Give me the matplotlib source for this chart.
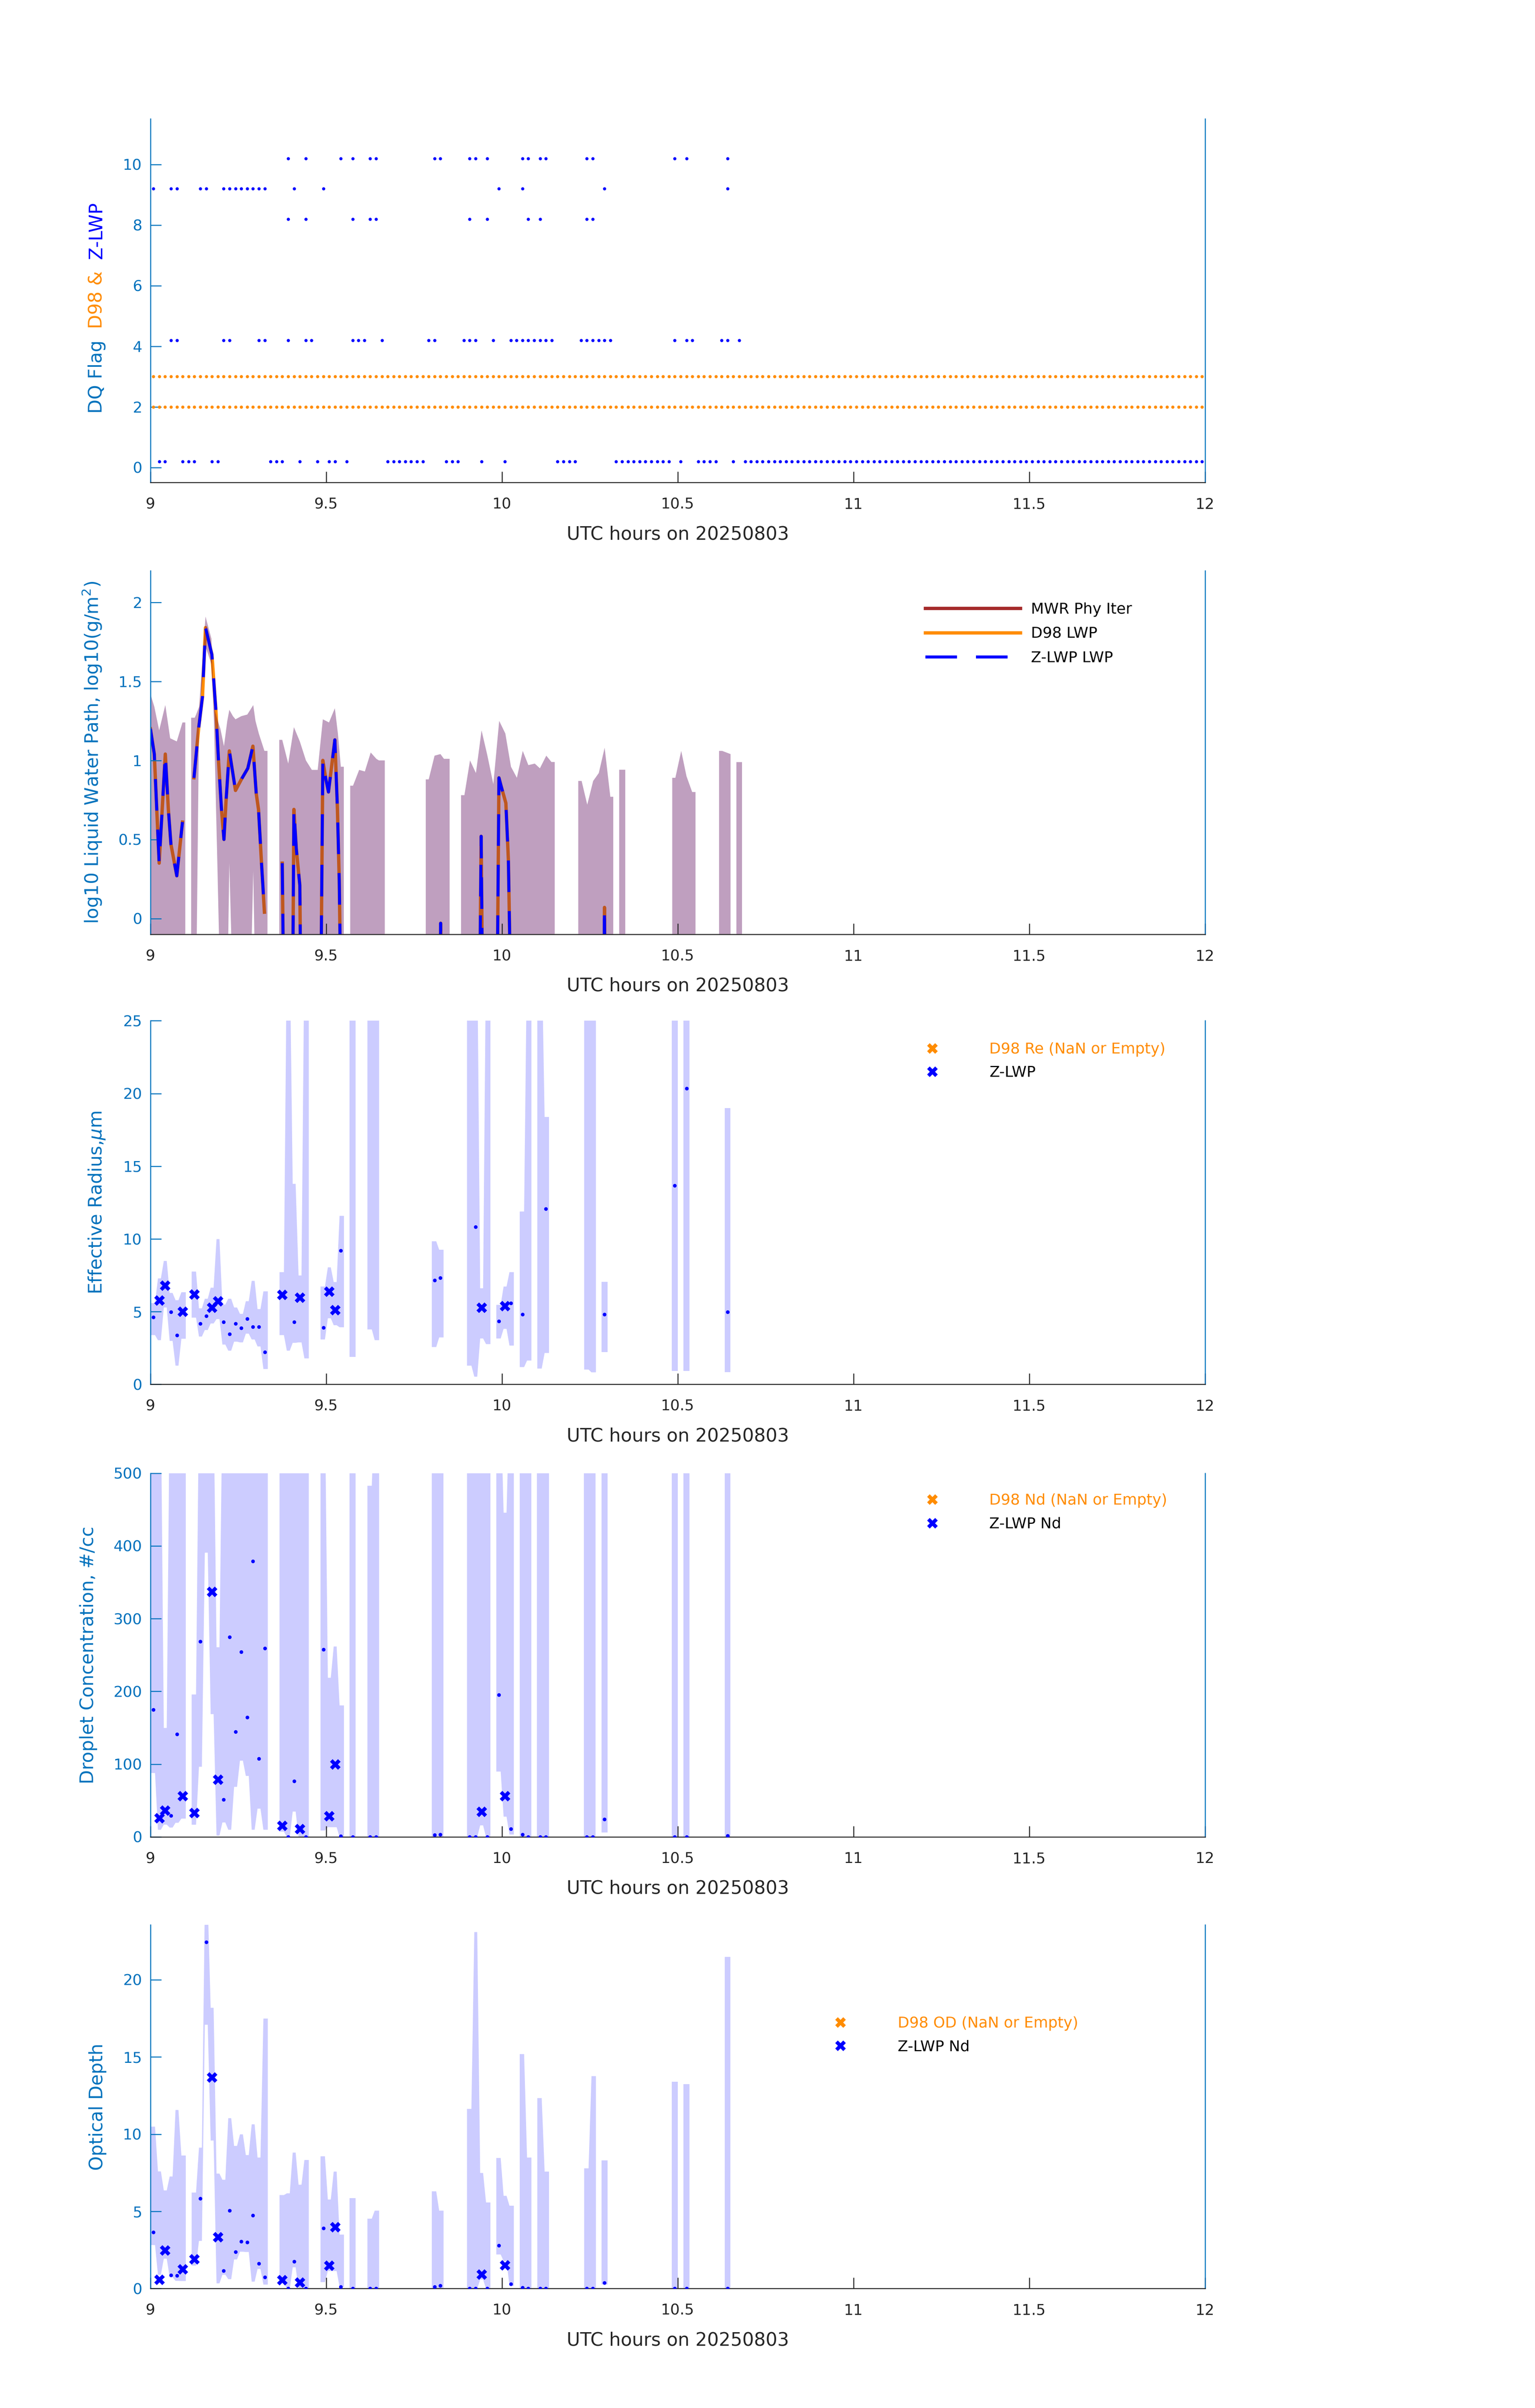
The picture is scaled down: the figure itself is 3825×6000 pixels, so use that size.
import numpy as np
import matplotlib
matplotlib.use('Agg')
import matplotlib.pyplot as plt
from matplotlib.ticker import FuncFormatter
from matplotlib.lines import Line2D

plt.rcParams['font.family'] = ['DejaVu Sans']

AX_BLUE = '#0072BD'
DARK = '#262626'
ORANGE = '#FF8C00'
BLUE = '#0000FF'
NAN = np.nan

# time base: one-minute samples stamped at the middle of each minute
n_time = 180
t_hour = 9.0 + (np.arange(n_time) + 0.5) / 60.0
half_min = 0.5 / 60.0
quarter_min = 0.25 / 60.0

# ---------------- panel 1: DQ flags (sample indices where a flag is set)
zlwp_flag10 = [23, 26, 32, 34, 37, 38, 48, 49, 54, 55, 57, 63, 64, 66, 67, 74, 75, 89, 91, 98]
zlwp_flag9 = [0, 3, 4, 8, 9, 12, 13, 14, 15, 16, 17, 18, 19, 24, 29, 59, 63, 77, 98]
zlwp_flag8 = [23, 26, 34, 37, 38, 54, 57, 64, 66, 74, 75]
zlwp_flag4 = [3, 4, 12, 13, 18, 19, 23, 26, 27, 34, 35, 36, 39, 47, 48, 53, 54, 55, 58,
              61, 62, 63, 64, 65, 66, 67, 68, 73, 74, 75, 76, 77, 78, 89, 91, 92, 97, 98, 100]
zlwp_flag0 = ([1, 2, 5, 6, 7, 10, 11, 20, 21, 22, 25, 28, 30, 31, 33, 40, 41, 42, 43, 44,
               45, 46, 50, 51, 52, 56, 60, 69, 70, 71, 72] + list(range(79, 89)) +
              [90, 93, 94, 95, 96, 99] + list(range(101, 180)))
d98_flag_a = np.full(n_time, 3.0)
d98_flag_b = np.full(n_time, 2.0)

# ---------------- panel 2: log10 LWP (time in minutes after 09:00)
lwp_min = [0.0, 0.66, 1.49, 2.54, 3.06, 3.50, 4.50, 5.47, NAN,
           7.43, 8.22, 8.88, 9.40, 10.49, 11.15, 11.59, 12.11, 12.55, 12.9, 13.47, 14.52,
           15.52, 16.62, 17.49, 18.06, 18.45, 18.93, 19.46, NAN,
           22.5, 22.75, NAN,
           24.27, 24.49, 24.9, 25.5, 25.67, NAN,
           29.08, 29.43, 29.95, 30.39, 31.05, 31.48, 31.92, 32.23, 32.5, NAN,
           49.4, 49.54, 49.7, NAN,
           56.2, 56.45, 56.7, NAN,
           59.18, 59.49, 59.84, 60.67, 61.1, 61.5, NAN,
           77.4, 77.5, 77.6]
d98_lwp = [1.20, 1.04, 0.35, 1.04, 0.69, 0.47, 0.27, 0.61, NAN,
           0.89, 1.20, 1.40, 1.84, 1.67, 1.33, 1.02, 0.70, 0.50, 0.74, 1.06, 0.81,
           0.88, 0.95, 1.09, 0.79, 0.69, 0.37, 0.04, NAN,
           0.35, -0.5, NAN,
           -0.5, 0.69, 0.44, 0.21, -0.5, NAN,
           -0.5, 1.00, 0.88, 0.80, 1.00, 1.13, 0.69, 0.24, -0.5, NAN,
           -0.5, -0.03, -0.5, NAN,
           -0.5, 0.52, -0.5, NAN,
           -0.5, 0.89, 0.84, 0.73, 0.37, -0.5, NAN,
           -0.5, 0.07, -0.5]
zlwp_lwp = list(d98_lwp)   # the two retrievals coincide
mwr_min = []
mwr_lwp = []

lwp_band_min = [0.0, 0.66, 1.49, 2.54, 3.37, 4.5, 5.47, 5.95, NAN,
                6.95, 7.56, 7.8, 8.31, 9.40, 10.41, 10.84, 11.41, 11.94, 12.55, 13.12, 13.47,
                14.08, 14.52, 15.52, 16.53, 17.05, 17.55, 17.93, 18.5, 19.46, 19.98, NAN,
                21.99, 22.5, 23.52, 24.49, 25.5, 26.54, 27.55, 28.55, 29.43, 30.48, 31.48,
                32.0, 32.5, 33.01, NAN,
                34.1, 34.58, 35.63, 36.6, 37.6, 38.56, 39.0, 40.0, NAN,
                47.0, 47.5, 48.5, 49.5, 50.1, 51.07, NAN,
                53.02, 53.59, 54.55, 55.56, 56.52, 57.52, 58.53, 59.53, 60.58, 61.54, 62.55,
                63.55, 64.51, 65.6, 66.48, 67.57, 68.45, 69.01, NAN,
                73.03, 73.6, 74.56, 75.57, 76.53, 77.53, 78.5, 79.0, NAN,
                80.02, 81.03, NAN,
                89.07, 89.6, 90.6, 91.5, 92.47, 93.04, NAN,
                97.06, 97.6, 99.02, NAN,
                99.99, 101.0]
lwp_band_hi = [1.42, 1.34, 1.19, 1.35, 1.14, 1.12, 1.24, 1.24, NAN,
               1.27, 1.27, 1.29, 1.34, 1.91, 1.77, 1.34, 1.26, 1.20, 1.09, 1.25, 1.32,
               1.28, 1.26, 1.28, 1.29, 1.32, 1.35, 1.25, 1.17, 1.06, 1.06, NAN,
               1.13, 1.13, 0.98, 1.21, 1.12, 1.00, 0.94, 0.94, 1.26, 1.24, 1.33,
               1.17, 0.96, 0.96, NAN,
               0.84, 0.84, 0.94, 0.93, 1.05, 1.01, 1.00, 1.00, NAN,
               0.88, 0.88, 1.03, 1.04, 1.01, 1.01, NAN,
               0.78, 0.78, 1.00, 0.92, 1.19, 1.03, 0.85, 1.25, 1.17, 0.96, 0.89,
               1.06, 0.97, 0.98, 0.95, 1.03, 0.99, 0.99, NAN,
               0.87, 0.87, 0.72, 0.87, 0.92, 1.08, 0.77, 0.77, NAN,
               0.94, 0.94, NAN,
               0.89, 0.89, 1.06, 0.90, 0.80, 0.80, NAN,
               1.06, 1.06, 1.04, NAN,
               0.99, 0.99]
lwp_band_lo = [-0.5, -0.5, -0.5, -0.5, -0.5, -0.5, -0.5, -0.5, NAN,
               -0.5, -0.5, -0.5, 1.29, 1.72, 1.61, 1.25, 0.37, -0.5, -0.5, -0.5, 0.35,
               -0.5, -0.5, -0.5, -0.5, -0.5, 0.30, -0.5, -0.5, -0.5, -0.5, NAN,
               -0.5, -0.5, -0.5, -0.5, -0.5, -0.5, -0.5, -0.5, -0.5, -0.5, -0.5,
               -0.5, -0.5, -0.5, NAN,
               -0.5, -0.5, -0.5, -0.5, -0.5, -0.5, -0.5, -0.5, NAN,
               -0.5, -0.5, -0.5, -0.5, -0.5, -0.5, NAN,
               -0.5, -0.5, -0.5, -0.5, -0.5, -0.5, -0.5, -0.5, -0.5, -0.5, -0.5,
               -0.5, -0.5, -0.5, -0.5, -0.5, -0.5, -0.5, NAN,
               -0.5, -0.5, -0.5, -0.5, -0.5, -0.5, -0.5, -0.5, NAN,
               -0.5, -0.5, NAN,
               -0.5, -0.5, -0.5, -0.5, -0.5, -0.5, NAN,
               -0.5, -0.5, -0.5, NAN,
               -0.5, -0.5]

# ---------------- panels 3-5: retrievals at sample indices
band_idx = [0, 1, 2, 3, 4, 5, 7, 8, 9, 10, 11, 12, 13, 14, 15, 16, 17, 18, 19,
            22, 23, 24, 25, 26, 29, 30, 31, 32, 34, 37, 38, 48, 49, 54, 55, 56, 57,
            59, 60, 61, 63, 64, 66, 67, 74, 75, 77, 89, 91, 98]
cross_idx = [1, 2, 5, 7, 10, 11, 22, 25, 30, 31, 56, 60]

re_hi = [5.6, 7.3, 8.5, 6.3, 5.8, 6.35, 7.77, 5.24, 5.9, 6.66, 10.0, 5.5, 5.9, 5.3, 4.86,
         5.73, 7.13, 5.19, 6.41, 7.73, 30, 13.8, 7.5, 30, 6.74, 8.06, 7.05, 11.6, 30, 30, 30,
         9.85, 9.27, 30, 30, 6.62, 30, 5.48, 6.74, 7.73, 11.9, 30, 30, 18.4, 30, 30, 7.05,
         30, 30, 19.0]
re_lo = [3.4, 3.05, 5.3, 3.0, 1.3, 3.15, 4.6, 3.3, 3.75, 4.2, 4.5, 2.75, 2.33, 2.95, 2.9,
         3.5, 3.1, 2.62, 1.07, 3.4, 2.33, 2.87, 2.9, 1.8, 3.1, 4.56, 4.08, 3.94, 1.88, 3.79,
         3.05, 2.58, 3.24, 1.3, 0.54, 3.17, 2.78, 3.17, 3.83, 2.68, 1.2, 1.65, 1.1, 2.17,
         1.03, 0.84, 2.21, 0.91, 0.91, 0.84]
re_cross = [5.79, 6.80, 5.01, 6.18, 5.28, 5.71, 6.16, 5.96, 6.39, 5.11, 5.28, 5.38]
re_dot_idx = [0, 3, 4, 8, 9, 12, 13, 14, 15, 16, 17, 18, 19, 24, 29, 32, 48, 49, 55, 59,
              61, 63, 67, 77, 89, 91, 98]
re_dot = [4.62, 4.97, 3.38, 4.18, 4.70, 4.29, 3.46, 4.18, 3.87, 4.51, 3.96, 3.96, 2.23,
          4.29, 3.90, 9.19, 7.17, 7.32, 10.82, 4.33, 5.58, 4.80, 12.08, 4.80, 13.68, 20.36,
          4.97]
d98_re = []

nd_hi = [600, 600, 150, 600, 600, 600, 196, 600, 600, 600, 261, 600, 600, 600, 600, 600,
         600, 600, 600, 600, 600, 600, 600, 600, 600, 219, 262, 181, 600, 483, 600, 600, 600,
         600, 600, 600, 600, 600, 446, 600, 600, 600, 600, 600, 600, 600, 600, 600, 600, 600]
nd_lo = [88, 10, 17, 13, 19.6, 25.3, 16.9, 96.6, 391, 169, 2, 20, 10, 69, 105, 84, 10, 39,
         10, 7.4, 0, 35, 0, 0, 9, 13.5, 13.5, 0, 0, 0, 0, 0, 0, 0, 0, 16, 0, 90, 28, 3.4,
         0, 0, 0, 0, 0, 0, 5.7, 0, 0, 0]
nd_cross = [26, 36.5, 56.4, 32.8, 337, 78.7, 15.2, 11.1, 28.7, 100, 34.8, 56.4]
nd_dot_idx = [0, 3, 4, 8, 12, 13, 14, 15, 16, 17, 18, 19, 23, 24, 26, 29, 32, 34, 37, 38,
              48, 49, 54, 55, 57, 59, 61, 63, 64, 66, 67, 74, 75, 77, 89, 91, 98]
nd_dot = [174.7, 29.4, 141, 268.6, 51.4, 275, 144.6, 254.4, 164.5, 379, 107.4, 259.5, 0,
          76.4, 0, 257.4, 1, 0, 0, 0, 2.4, 3.4, 0, 0, 0, 195, 11.1, 3.4, 0, 0, 0, 0, 0,
          24.3, 0, 0, 1.7]
d98_nd = []

od_hi = [10.5, 7.6, 6.37, 7.27, 11.58, 8.63, 6.23, 9.14, 25, 18.2, 7.46, 7.06, 11.05, 9.25,
         10.0, 8.66, 10.65, 8.5, 17.5, 6.07, 6.18, 8.82, 6.74, 8.34, 8.58, 5.78, 7.59, 3.51,
         5.86, 4.54, 5.06, 6.31, 5.06, 11.65, 23.1, 7.5, 5.59, 8.47, 6.02, 5.38, 15.2, 8.5,
         12.35, 7.59, 7.8, 13.77, 8.29, 13.4, 13.24, 21.47]
od_lo = [2.83, 0.9, 1.95, 0.75, 0.51, 0.5, 1.5, 3.1, 17.1, 9.6, 0.35, 0.91, 0.62, 1.9, 2.4,
         2.38, 0.46, 1.28, 0.27, 0.43, 0, 1.39, 0, 0, 0.43, 1.15, 1.15, 0.11, 0, 0, 0, 0, 0,
         0, 0, 0.6, 0, 2.22, 1.79, 0.19, 0, 0, 0, 0, 0, 0, 0.27, 0, 0, 0]
od_cross = [0.59, 2.48, 1.26, 1.92, 13.69, 3.35, 0.56, 0.40, 1.49, 3.99, 0.93, 1.52]
od_dot_idx = [0, 3, 4, 8, 9, 12, 13, 14, 15, 16, 17, 18, 19, 23, 24, 26, 29, 32, 34, 37, 38,
              48, 49, 54, 55, 57, 59, 61, 63, 64, 66, 67, 74, 75, 77, 89, 91, 98]
od_dot = [3.66, 0.88, 0.83, 5.83, 22.43, 1.15, 5.06, 2.38, 3.04, 2.99, 4.74, 1.61, 0.73, 0,
          1.74, 0, 3.90, 0.11, 0, 0, 0, 0.11, 0.19, 0, 0, 0, 2.80, 0.29, 0.06, 0, 0, 0, 0, 0,
          0.38, 0, 0, 0]
d98_od = []

xticks = [9, 9.5, 10, 10.5, 11, 11.5, 12]


def style_axes(ax, ylim, yticks, ylabel, label_x):
    ax.set_xlim(9, 12)
    ax.set_ylim(*ylim)
    ax.set_xticks(xticks)
    ax.set_yticks(yticks)
    fmt = FuncFormatter(lambda v, p: '%g' % v)
    ax.xaxis.set_major_formatter(fmt)
    ax.yaxis.set_major_formatter(fmt)
    ax.spines['top'].set_visible(False)
    for side in ('left', 'right'):
        ax.spines[side].set_color(AX_BLUE)
        ax.spines[side].set_linewidth(0.6)
    ax.spines['bottom'].set_color(DARK)
    ax.spines['bottom'].set_linewidth(0.6)
    ax.tick_params(axis='y', colors=AX_BLUE, direction='in', length=6.5, width=0.6,
                   labelsize=9, pad=5, right=False)
    ax.tick_params(axis='x', colors=DARK, direction='in', length=6.5, width=0.6,
                   labelsize=9, pad=9, top=False)
    ax.set_xlabel('UTC hours on 20250803', fontsize=11, color=DARK, labelpad=8)
    if ylabel:
        ax.set_ylabel(ylabel, fontsize=11, color=AX_BLUE)
        ax.yaxis.set_label_coords(label_x, 0.5)


def draw_band(ax, idx, hi, lo, color):
    # each sample holds its value for half a minute, neighbours are joined linearly
    idx = np.asarray(idx)
    hi = np.asarray(hi, float)
    lo = np.asarray(lo, float)
    cuts = np.flatnonzero(np.diff(idx) != 1) + 1
    for run in np.split(np.arange(idx.size), cuts):
        xs, ys_hi, ys_lo = [], [], []
        last = len(run) - 1
        for k, j in enumerate(run):
            t = t_hour[idx[j]]
            xs += [t - (half_min if k == 0 else quarter_min),
                   t + (half_min if k == last else quarter_min)]
            ys_hi += [hi[j], hi[j]]
            ys_lo += [lo[j], lo[j]]
        ax.fill_between(xs, ys_lo, ys_hi, color=color, lw=0, zorder=1)


def retrieval_panel(ax, hi, lo, cross, dot_idx, dot, d98):
    draw_band(ax, band_idx, hi, lo, (0, 0, 1, 0.2))
    ax.plot(t_hour[dot_idx], dot, 'o', color=BLUE, ms=2.2, mew=0, ls='none', zorder=3)
    h_z, = ax.plot(t_hour[cross_idx], cross, 'x', color=BLUE, ms=5, mew=2.2, ls='none',
                   zorder=3)
    h_d, = ax.plot(d98, d98, 'x', color=ORANGE, ms=5, mew=2.2, ls='none')
    return h_d, h_z


def marker_legend(ax, handles, labels, anchor):
    leg = ax.legend(handles, labels, loc='center left', bbox_to_anchor=anchor,
                    frameon=False, fontsize=9, handlelength=2, handletextpad=2.8,
                    labelspacing=0.6, borderpad=0, borderaxespad=0)
    leg.get_texts()[0].set_color(ORANGE)


fig = plt.figure(figsize=(12.75, 20), dpi=300)
left, width, height = 0.098, 0.687, 0.151
bottoms = [0.7996, 0.6120, 0.4251, 0.2372, 0.0496]
axes = [fig.add_axes([left, b, width, height]) for b in bottoms]

# ---- panel 1
ax = axes[0]
for lev, idx in ((10, zlwp_flag10), (9, zlwp_flag9), (8, zlwp_flag8),
                 (4, zlwp_flag4), (0, zlwp_flag0)):
    ax.plot(t_hour[idx], np.full(len(idx), lev) + 0.2, 'o', color=BLUE, ms=1.9, mew=0,
            ls='none')
ax.plot(t_hour, d98_flag_a, 'o', color=ORANGE, ms=1.9, mew=0, ls='none')
ax.plot(t_hour, d98_flag_b, 'o', color=ORANGE, ms=1.9, mew=0, ls='none')
style_axes(ax, (-0.5, 11.5), [0, 2, 4, 6, 8, 10], None, 0)
lx = -0.0506
t1 = ax.text(lx, 0.19, 'DQ Flag', transform=ax.transAxes, rotation=90, color=AX_BLUE,
             fontsize=11, ha='center', va='bottom')
t2 = ax.annotate('D98 &', xy=(0.5, 1.0), xycoords=t1, xytext=(0, 7),
                 textcoords='offset points', rotation=90, color=ORANGE, fontsize=11,
                 ha='center', va='bottom')
ax.annotate('Z-LWP', xy=(0.5, 1.0), xycoords=t2, xytext=(0, 7),
            textcoords='offset points', rotation=90, color=BLUE, fontsize=11,
            ha='center', va='bottom')

# ---- panel 2
ax = axes[1]
lt = 9.0 + np.asarray(lwp_min) / 60.0
bt = 9.0 + np.asarray(lwp_band_min) / 60.0
ax.plot(mwr_min, mwr_lwp, color='#A52A2A', lw=2.0, zorder=1)
ax.plot(lt, d98_lwp, color=ORANGE, lw=2.0, zorder=1)
ax.fill_between(bt, lwp_band_lo, lwp_band_hi, color=(0.333, 0, 0.333, 0.376), lw=0,
                zorder=1.5)
ax.plot(lt, zlwp_lwp, color=BLUE, lw=1.8, dashes=(10.5, 6.3), zorder=2)
style_axes(ax, (-0.1, 2.2), [0, 0.5, 1, 1.5, 2],
           'log10 Liquid Water Path, log10(g/m$^2$)', -0.045)
leg_handles = [Line2D([], [], color='#A52A2A', lw=2.0),
               Line2D([], [], color=ORANGE, lw=2.0),
               Line2D([], [], color=BLUE, lw=1.8, dashes=(10.5, 6.3))]
ax.legend(leg_handles, ['MWR Phy Iter', 'D98 LWP', 'Z-LWP LWP'],
          loc='center left', bbox_to_anchor=(0.735, 0.826), frameon=False, fontsize=9,
          handlelength=6.3, handletextpad=0.7, labelspacing=0.65, borderpad=0,
          borderaxespad=0)

# ---- panel 3
ax = axes[2]
hs = retrieval_panel(ax, re_hi, re_lo, re_cross, re_dot_idx, re_dot, d98_re)
style_axes(ax, (0, 25), [0, 5, 10, 15, 20, 25], 'Effective Radius,$\\mu$m', -0.0415)
marker_legend(ax, hs, ['D98 Re (NaN or Empty)', 'Z-LWP'], (0.727, 0.889))

# ---- panel 4
ax = axes[3]
hs = retrieval_panel(ax, nd_hi, nd_lo, nd_cross, nd_dot_idx, nd_dot, d98_nd)
style_axes(ax, (0, 500), [0, 100, 200, 300, 400, 500], 'Droplet Concentration, #/cc', -0.050)
marker_legend(ax, hs, ['D98 Nd (NaN or Empty)', 'Z-LWP Nd'], (0.727, 0.892))

# ---- panel 5
ax = axes[4]
hs = retrieval_panel(ax, od_hi, od_lo, od_cross, od_dot_idx, od_dot, d98_od)
style_axes(ax, (0, 23.55), [0, 5, 10, 15, 20], 'Optical Depth', -0.0415)
marker_legend(ax, hs, ['D98 OD (NaN or Empty)', 'Z-LWP Nd'], (0.640, 0.697))

fig.savefig('out.png', dpi=300)
